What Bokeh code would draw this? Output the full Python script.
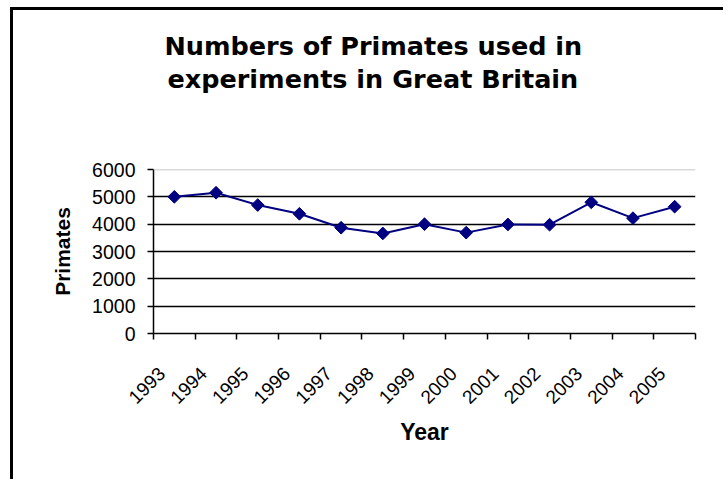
import math
from bokeh.plotting import figure
from bokeh.models import Range1d, FixedTicker, Span, Title
from bokeh.embed import file_html
from bokeh.resources import INLINE

# ---- data ----
years = ["1993", "1994", "1995", "1996", "1997", "1998", "1999",
         "2000", "2001", "2002", "2003", "2004", "2005"]
primates = [5000, 5150, 4700, 4380, 3870, 3660, 4000,
            3690, 3990, 3980, 4800, 4220, 4640]
y_ticks = [0, 1000, 2000, 3000, 4000, 5000, 6000]
title_lines = ["Numbers of Primates used in", "experiments in Great Britain"]
x_title = "Year"
y_title = "Primates"

n = len(years)
x_pos = [i + 0.5 for i in range(n)]          # category centres
x_bounds = [i for i in range(n + 1)]         # category boundaries
label_shift = 0.3                            # rotated labels end just left of centre

NAVY = "#000080"
FONT = "Liberation Sans"
TFONT = "DejaVu Sans"

p = figure(width=713, height=472, output_backend="svg", toolbar_location=None,
           x_range=Range1d(0, n), y_range=Range1d(0, y_ticks[-1]),
           min_border_left=140, min_border_right=31,
           min_border_top=159, min_border_bottom=149)
p.styles = {"margin-left": "10px", "margin-top": "7px",
            "border-left": "3px solid black", "border-top": "3px solid black"}
p.outline_line_color = None
p.background_fill_color = "white"
p.border_fill_color = "white"

# grid
p.xgrid.visible = False
p.ygrid.ticker = FixedTicker(ticks=y_ticks[1:-1])
p.ygrid.grid_line_color = "black"
p.ygrid.grid_line_width = 1.5
p.add_layout(Span(location=y_ticks[-1], dimension="width",
                  line_color="#b4b4b4", line_width=1.5))

# y axis
p.yaxis.ticker = FixedTicker(ticks=y_ticks)
p.yaxis.minor_tick_line_color = None
p.yaxis.major_tick_in = 0
p.yaxis.major_tick_out = 6
p.yaxis.axis_line_width = 1.5
p.yaxis.major_tick_line_width = 1.5
p.yaxis.major_label_text_font = FONT
p.yaxis.major_label_text_font_size = "19.5px"
p.yaxis.major_label_text_color = "black"
p.yaxis.major_label_standoff = 12
p.yaxis.axis_label = y_title
p.yaxis.axis_label_text_font = FONT
p.yaxis.axis_label_text_font_style = "bold"
p.yaxis.axis_label_text_font_size = "21px"
p.yaxis.axis_label_text_color = "black"
p.yaxis.axis_label_standoff = 15

# x axis
label_ticks = [x - label_shift for x in x_pos]
p.xaxis.ticker = FixedTicker(ticks=label_ticks, minor_ticks=x_bounds)
p.xaxis.major_label_overrides = {x: y for x, y in zip(label_ticks, years)}
p.xaxis.major_tick_in = 0
p.xaxis.major_tick_out = 0
p.xaxis.minor_tick_in = 0
p.xaxis.minor_tick_out = 6
p.xaxis.minor_tick_line_width = 1.5
p.xaxis.minor_tick_line_color = "black"
p.xaxis.axis_line_width = 1.5
p.xaxis.major_label_orientation = math.pi / 4
p.xaxis.major_label_text_font = FONT
p.xaxis.major_label_text_font_size = "19px"
p.xaxis.major_label_text_color = "black"
p.xaxis.major_label_standoff = 31
p.xaxis.axis_label = x_title
p.xaxis.axis_label_text_font = FONT
p.xaxis.axis_label_text_font_style = "bold"
p.xaxis.axis_label_text_font_size = "23px"
p.xaxis.axis_label_text_color = "black"
p.xaxis.axis_label_standoff = 6

# series
p.line(x_pos, primates, line_color=NAVY, line_width=2)
p.scatter(x_pos, primates, marker="square", angle=math.pi / 4, size=9,
          fill_color=NAVY, line_color=NAVY)

# title: panels stack outward from the frame (spacer, line 2, line 1)
p.add_layout(Title(text=" ", text_font_size="65px", standoff=0), "above")
for txt, off, so in zip(title_lines[::-1], [14, 11], [2, 0]):
    p.add_layout(Title(text=txt, align="left", offset=off, standoff=so,
                       vertical_align="bottom",
                       text_font=TFONT, text_font_style="bold",
                       text_font_size="25.5px", text_color="black"), "above")

open("out.html", "w").write(file_html(p, INLINE))
